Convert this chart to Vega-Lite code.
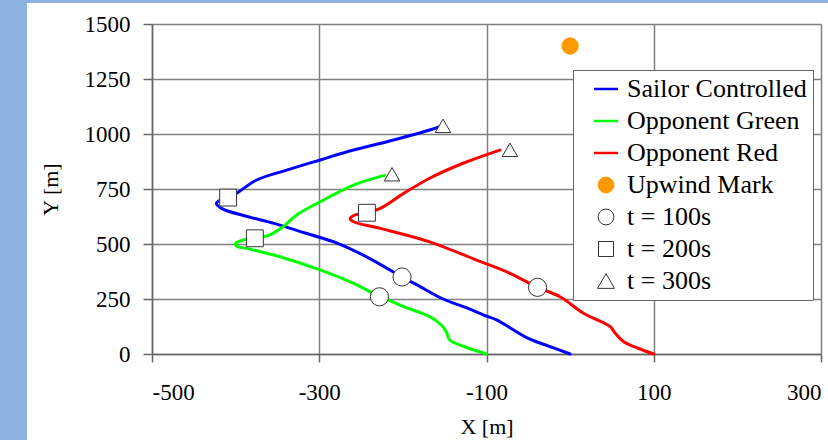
{
  "$schema": "https://vega.github.io/schema/vega-lite/v6.json",
  "width": 669,
  "height": 330,
  "autosize": "none",
  "padding": {"left": 152, "top": 24, "right": 7, "bottom": 86},
  "background": "white",
  "datasets": {
    "tracks": [
      {"boat": "Sailor Controlled", "i": 0, "x": 0, "y": 0},
      {"boat": "Sailor Controlled", "i": 1, "x": -25, "y": 35},
      {"boat": "Sailor Controlled", "i": 2, "x": -50, "y": 71},
      {"boat": "Sailor Controlled", "i": 3, "x": -88, "y": 155},
      {"boat": "Sailor Controlled", "i": 4, "x": -102, "y": 175},
      {"boat": "Sailor Controlled", "i": 5, "x": -126, "y": 213},
      {"boat": "Sailor Controlled", "i": 6, "x": -152, "y": 250},
      {"boat": "Sailor Controlled", "i": 7, "x": -183, "y": 314},
      {"boat": "Sailor Controlled", "i": 8, "x": -201, "y": 350},
      {"boat": "Sailor Controlled", "i": 9, "x": -240, "y": 435},
      {"boat": "Sailor Controlled", "i": 10, "x": -278, "y": 503},
      {"boat": "Sailor Controlled", "i": 11, "x": -316, "y": 549},
      {"boat": "Sailor Controlled", "i": 12, "x": -354, "y": 594},
      {"boat": "Sailor Controlled", "i": 13, "x": -385, "y": 624},
      {"boat": "Sailor Controlled", "i": 14, "x": -417, "y": 662},
      {"boat": "Sailor Controlled", "i": 15, "x": -423, "y": 685},
      {"boat": "Sailor Controlled", "i": 16, "x": -418, "y": 700},
      {"boat": "Sailor Controlled", "i": 17, "x": -409, "y": 711},
      {"boat": "Sailor Controlled", "i": 18, "x": -399, "y": 730},
      {"boat": "Sailor Controlled", "i": 19, "x": -375, "y": 791},
      {"boat": "Sailor Controlled", "i": 20, "x": -339, "y": 836},
      {"boat": "Sailor Controlled", "i": 21, "x": -299, "y": 882},
      {"boat": "Sailor Controlled", "i": 22, "x": -259, "y": 927},
      {"boat": "Sailor Controlled", "i": 23, "x": -211, "y": 973},
      {"boat": "Sailor Controlled", "i": 24, "x": -168, "y": 1018},
      {"boat": "Sailor Controlled", "i": 25, "x": -155, "y": 1035},
      {"boat": "Opponent Green", "i": 0, "x": -100, "y": 0},
      {"boat": "Opponent Green", "i": 1, "x": -126, "y": 33},
      {"boat": "Opponent Green", "i": 2, "x": -144, "y": 64},
      {"boat": "Opponent Green", "i": 3, "x": -148, "y": 101},
      {"boat": "Opponent Green", "i": 4, "x": -154, "y": 132},
      {"boat": "Opponent Green", "i": 5, "x": -168, "y": 170},
      {"boat": "Opponent Green", "i": 6, "x": -199, "y": 215},
      {"boat": "Opponent Green", "i": 7, "x": -217, "y": 245},
      {"boat": "Opponent Green", "i": 8, "x": -228, "y": 260},
      {"boat": "Opponent Green", "i": 9, "x": -255, "y": 314},
      {"boat": "Opponent Green", "i": 10, "x": -299, "y": 382},
      {"boat": "Opponent Green", "i": 11, "x": -347, "y": 442},
      {"boat": "Opponent Green", "i": 12, "x": -387, "y": 480},
      {"boat": "Opponent Green", "i": 13, "x": -399, "y": 490},
      {"boat": "Opponent Green", "i": 14, "x": -400, "y": 503},
      {"boat": "Opponent Green", "i": 15, "x": -391, "y": 518},
      {"boat": "Opponent Green", "i": 16, "x": -377, "y": 526},
      {"boat": "Opponent Green", "i": 17, "x": -359, "y": 541},
      {"boat": "Opponent Green", "i": 18, "x": -343, "y": 579},
      {"boat": "Opponent Green", "i": 19, "x": -327, "y": 632},
      {"boat": "Opponent Green", "i": 20, "x": -299, "y": 692},
      {"boat": "Opponent Green", "i": 21, "x": -259, "y": 768},
      {"boat": "Opponent Green", "i": 22, "x": -222, "y": 812},
      {"boat": "Opponent Red", "i": 0, "x": 100, "y": 0},
      {"boat": "Opponent Red", "i": 1, "x": 82, "y": 25},
      {"boat": "Opponent Red", "i": 2, "x": 64, "y": 56},
      {"boat": "Opponent Red", "i": 3, "x": 54, "y": 94},
      {"boat": "Opponent Red", "i": 4, "x": 48, "y": 124},
      {"boat": "Opponent Red", "i": 5, "x": 16, "y": 185},
      {"boat": "Opponent Red", "i": 6, "x": -12, "y": 260},
      {"boat": "Opponent Red", "i": 7, "x": -39, "y": 303},
      {"boat": "Opponent Red", "i": 8, "x": -72, "y": 367},
      {"boat": "Opponent Red", "i": 9, "x": -112, "y": 427},
      {"boat": "Opponent Red", "i": 10, "x": -168, "y": 510},
      {"boat": "Opponent Red", "i": 11, "x": -227, "y": 571},
      {"boat": "Opponent Red", "i": 12, "x": -259, "y": 601},
      {"boat": "Opponent Red", "i": 13, "x": -263, "y": 615},
      {"boat": "Opponent Red", "i": 14, "x": -257, "y": 632},
      {"boat": "Opponent Red", "i": 15, "x": -243, "y": 642},
      {"boat": "Opponent Red", "i": 16, "x": -227, "y": 662},
      {"boat": "Opponent Red", "i": 17, "x": -199, "y": 730},
      {"boat": "Opponent Red", "i": 18, "x": -168, "y": 799},
      {"boat": "Opponent Red", "i": 19, "x": -128, "y": 867},
      {"boat": "Opponent Red", "i": 20, "x": -84, "y": 927}
    ],
    "times": [
      {"key": "t = 100s", "x": -201, "y": 350},
      {"key": "t = 100s", "x": -228, "y": 260},
      {"key": "t = 100s", "x": -39, "y": 303},
      {"key": "t = 200s", "x": -409, "y": 711},
      {"key": "t = 200s", "x": -377, "y": 526},
      {"key": "t = 200s", "x": -243, "y": 642},
      {"key": "t = 300s", "x": -152, "y": 1037},
      {"key": "t = 300s", "x": -213, "y": 817},
      {"key": "t = 300s", "x": -72, "y": 928}
    ],
    "mark": [
      {"key": "Upwind Mark", "x": 0, "y": 1400}
    ]
  },
  "layer": [
    {
      "data": {"values": [{}]},
      "mark": {"type": "rect", "color": "#8DB3E2", "clip": false},
      "encoding": {
        "x": {"datum": -700, "type": "quantitative", "scale": {"domain": [-500, 300]}},
        "x2": {"datum": -649.5},
        "y": {"datum": -500, "type": "quantitative", "scale": {"domain": [0, 1500]}},
        "y2": {"datum": 1700}
      }
    },
    {
      "data": {"values": [{}]},
      "mark": {"type": "rect", "color": "#8DB3E2", "clip": false},
      "encoding": {
        "x": {"datum": -700, "type": "quantitative"},
        "x2": {"datum": 400},
        "y": {"datum": 1595.5, "type": "quantitative"},
        "y2": {"datum": 1700}
      }
    },
    {
      "data": {"name": "tracks"},
      "mark": {"type": "line", "strokeWidth": 3, "strokeCap": "round", "strokeJoin": "round", "interpolate": "catmull-rom"},
      "encoding": {
        "x": {
          "field": "x", "type": "quantitative",
          "scale": {"domain": [-500, 300], "nice": false, "zero": false},
          "axis": {
            "title": "X [m]",
            "values": [-500, -300, -100, 100, 300],
            "labelExpr": "'' + datum.value",
            "tickSize": 8,
            "labelPadding": 19,
            "titlePadding": 12
          }
        },
        "y": {
          "field": "y", "type": "quantitative",
          "scale": {"domain": [0, 1500], "nice": false},
          "axis": {
            "title": "Y [m]",
            "values": [0, 250, 500, 750, 1000, 1250, 1500],
            "labelExpr": "'' + datum.value",
            "tickSize": 9,
            "labelPadding": 13,
            "titlePadding": 22
          }
        },
        "order": {"field": "i", "type": "quantitative"},
        "color": {
          "field": "boat", "type": "nominal",
          "scale": {
            "domain": ["Sailor Controlled", "Opponent Green", "Opponent Red", "Upwind Mark", "t = 100s", "t = 200s", "t = 300s"],
            "range": ["#0000FF", "#00FF00", "#FF0000", "#FF9900", "#333333", "#333333", "#333333"]
          },
          "legend": {
            "title": null,
            "orient": "none",
            "legendX": 421,
            "legendY": 46,
            "padding": 6,
            "strokeColor": "#666666",
            "fillColor": "white",
            "cornerRadius": 0,
            "rowPadding": 6,
            "symbolSize": 576,
            "symbolOffset": 14,
            "labelOffset": 8,
            "labelFont": "Liberation Serif",
            "labelFontSize": 26,
            "labelColor": "black",
            "labelLimit": 400,
            "encode": {
              "symbols": {
                "update": {
                  "shape": {"signal": "indexof(['Sailor Controlled','Opponent Green','Opponent Red'], datum.value) >= 0 ? 'stroke' : (datum.value == 't = 200s' ? 'square' : (datum.value == 't = 300s' ? 'triangle-up' : 'circle'))"},
                  "size": {"signal": "indexof(['Sailor Controlled','Opponent Green','Opponent Red'], datum.value) >= 0 ? 576 : (datum.value == 't = 300s' ? 289 : (datum.value == 't = 200s' ? 225 : 250))"},
                  "fill": {"signal": "datum.value == 'Upwind Mark' ? '#FF9900' : (indexof(['Sailor Controlled','Opponent Green','Opponent Red'], datum.value) >= 0 ? 'transparent' : 'white')"},
                  "stroke": {"signal": "datum.value == 'Sailor Controlled' ? '#0000FF' : (datum.value == 'Opponent Green' ? '#00FF00' : (datum.value == 'Opponent Red' ? '#FF0000' : (datum.value == 'Upwind Mark' ? 'transparent' : '#333333')))"},
                  "strokeWidth": {"signal": "indexof(['Sailor Controlled','Opponent Green','Opponent Red'], datum.value) >= 0 ? 2.5 : 1"},
                  "opacity": {"value": 1}
                }
              }
            }
          }
        }
      }
    },
    {
      "data": {"name": "mark"},
      "mark": {"type": "point", "filled": true, "color": "#FF9900", "size": 300, "opacity": 1},
      "encoding": {
        "x": {"field": "x", "type": "quantitative"},
        "y": {"field": "y", "type": "quantitative"}
      }
    },
    {
      "data": {"name": "times"},
      "mark": {"type": "point", "filled": true, "fill": "white", "stroke": "#333333", "strokeWidth": 1, "opacity": 1},
      "encoding": {
        "x": {"field": "x", "type": "quantitative"},
        "y": {"field": "y", "type": "quantitative"},
        "shape": {
          "field": "key", "type": "nominal",
          "scale": {"domain": ["t = 100s", "t = 200s", "t = 300s"], "range": ["circle", "square", "triangle-up"]},
          "legend": null
        },
        "size": {
          "field": "key", "type": "nominal",
          "scale": {"domain": ["t = 100s", "t = 200s", "t = 300s"], "range": [330, 240, 360]},
          "legend": null
        }
      }
    }
  ],
  "config": {
    "view": {"stroke": null},
    "font": "Liberation Serif",
    "axis": {
      "grid": true,
      "gridColor": "#808080",
      "gridWidth": 1.5,
      "gridOpacity": 1,
      "domainColor": "#666666",
      "domainWidth": 1.5,
      "tickColor": "#666666",
      "tickWidth": 1.5,
      "labelFont": "Liberation Serif",
      "labelFontSize": 23,
      "labelColor": "black",
      "titleFont": "Liberation Serif",
      "titleFontSize": 22,
      "titleFontWeight": "normal",
      "titleColor": "black"
    }
  }
}
